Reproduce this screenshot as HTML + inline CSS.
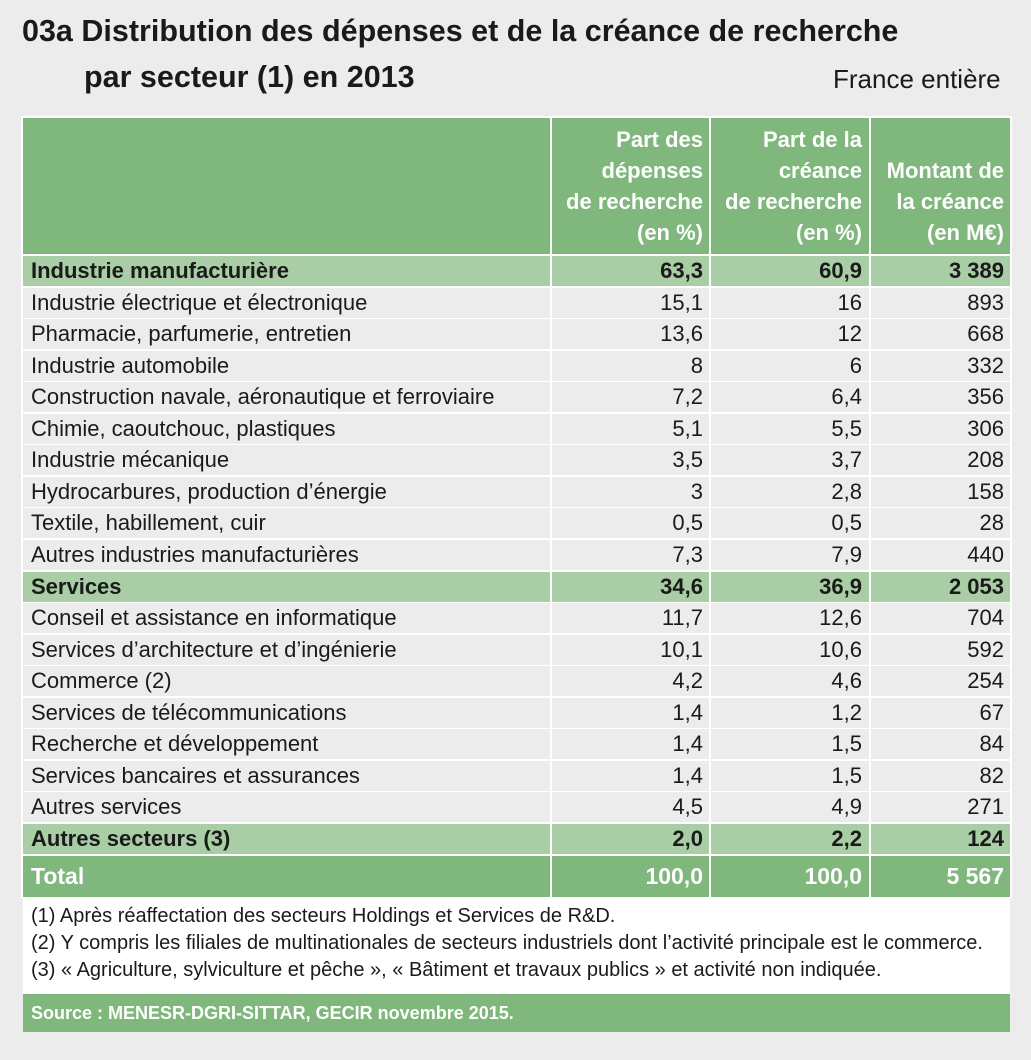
<!DOCTYPE html>
<html><head><meta charset="utf-8"><style>
body{margin:0;width:1031px;height:1060px;background:#ececec;font-family:"Liberation Sans",sans-serif;position:relative;overflow:hidden;color:#1a1a1a}
.t{position:absolute;font-weight:bold;font-size:30.5px;white-space:nowrap}
.r{position:absolute;left:23px;width:987px;height:30px;font-size:22px;line-height:30px}
.c{position:absolute;top:0;height:100%;white-space:nowrap}
.c0{left:0;width:527px;padding-left:8px}
.c1{left:527px;width:151px;text-align:right;padding-right:8px;border-left:2px solid #fff}
.c2{left:686px;width:151px;text-align:right;padding-right:8px;border-left:2px solid #fff}
.c3{left:846px;width:133px;text-align:right;padding-right:8px;border-left:2px solid #fff}
.b{background:#a9cea5;font-weight:bold}
.w{background:#ececec}
</style></head><body>
<div class="t" style="left:22px;top:14px">03a Distribution des dépenses et de la créance de recherche</div>
<div class="t" style="left:84px;top:60px">par secteur (1) en 2013</div>
<div style="position:absolute;left:833px;top:64px;font-size:26px;white-space:nowrap">France entière</div>
<div style="position:absolute;left:21px;top:116px;width:991px;height:782px;background:#fff"></div>
<div class="r" style="top:118px;height:136px;background:#80b77d;color:#fff;font-weight:bold;font-size:22px;line-height:31px">
<div class="c c0"></div>
<div class="c c1" style="padding-top:6px;height:130px">Part des<br>dépenses<br>de recherche<br>(en %)</div>
<div class="c c2" style="padding-top:6px;height:130px">Part de la<br>créance<br>de recherche<br>(en %)</div>
<div class="c c3" style="padding-top:37px;height:99px">Montant de<br>la créance<br>(en M€)</div>
</div>
<div id="rows"></div>
<div class="r" style="top:856px;height:41px;line-height:41px;background:#80b77d;color:#fff;font-weight:bold;font-size:23px">
<div class="c c0">Total</div><div class="c c1">100,0</div><div class="c c2">100,0</div><div class="c c3">5 567</div></div>
<div style="position:absolute;left:23px;top:898px;width:987px;height:96px;background:#fff;font-size:20px;line-height:27px;padding-top:5px;box-sizing:border-box;white-space:nowrap;overflow:hidden">
<div style="padding-left:8px">(1) Après réaffectation des secteurs Holdings et Services de R&amp;D.<br>(2) Y compris les filiales de multinationales de secteurs industriels dont l’activité principale est le commerce.<br>(3) « Agriculture, sylviculture et pêche », « Bâtiment et travaux publics » et activité non indiquée.</div></div>
<div style="position:absolute;left:23px;top:994px;width:987px;height:38px;background:#80b77d;color:#fff;font-weight:bold;font-size:18px;line-height:38px;padding-left:8px;box-sizing:border-box">Source : MENESR-DGRI-SITTAR, GECIR novembre 2015.</div>
<script>
var d=[["Industrie manufacturière","63,3","60,9","3 389",1],
["Industrie électrique et électronique","15,1","16","893"],
["Pharmacie, parfumerie, entretien","13,6","12","668"],
["Industrie automobile","8","6","332"],
["Construction navale, aéronautique et ferroviaire","7,2","6,4","356"],
["Chimie, caoutchouc, plastiques","5,1","5,5","306"],
["Industrie mécanique","3,5","3,7","208"],
["Hydrocarbures, production d’énergie","3","2,8","158"],
["Textile, habillement, cuir","0,5","0,5","28"],
["Autres industries manufacturières","7,3","7,9","440"],
["Services","34,6","36,9","2 053",1],
["Conseil et assistance en informatique","11,7","12,6","704"],
["Services d’architecture et d’ingénierie","10,1","10,6","592"],
["Commerce (2)","4,2","4,6","254"],
["Services de télécommunications","1,4","1,2","67"],
["Recherche et développement","1,4","1,5","84"],
["Services bancaires et assurances","1,4","1,5","82"],
["Autres services","4,5","4,9","271"],
["Autres secteurs (3)","2,0","2,2","124",1]];
var h="";d.forEach(function(r,i){var t=256+i*31.55;
h+='<div class="r '+(r[4]?'b':'w')+'" style="top:'+t.toFixed(1)+'px"><div class="c c0">'+r[0]+'</div><div class="c c1">'+r[1]+'</div><div class="c c2">'+r[2]+'</div><div class="c c3">'+r[3]+'</div></div>';});
document.getElementById("rows").innerHTML=h;
</script>
</body></html>
